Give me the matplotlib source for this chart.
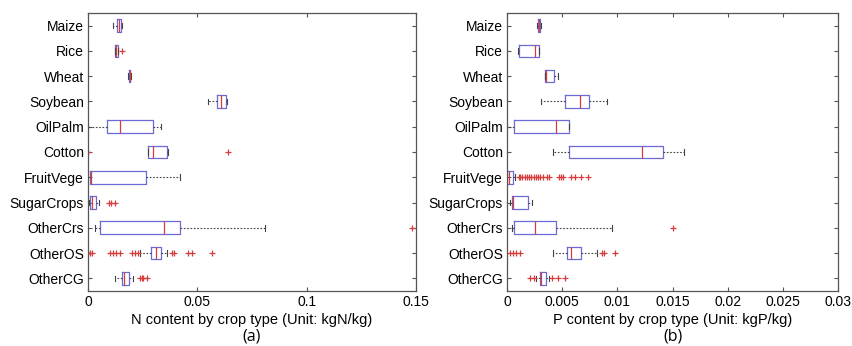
import numpy as np
import matplotlib
matplotlib.use('Agg')
import matplotlib.pyplot as plt

plt.rcParams['font.family'] = ['Liberation Sans', 'DejaVu Sans']

crops = ['Maize', 'Rice', 'Wheat', 'Soybean', 'OilPalm', 'Cotton', 'FruitVege',
         'SugarCrops', 'OtherCrs', 'OtherOS', 'OtherCG']

# N content (kgN/kg): whisker low, q1, median, q3, whisker high, outliers
n_whislo = [0.0115, 0.0122, 0.0185, 0.0547, 0.0, 0.0275, 0.0, 0.0003, 0.003, 0.0237, 0.0122]
n_q1 = [0.0133, 0.0122, 0.0186, 0.0592, 0.0089, 0.0275, 0.0008, 0.0011, 0.0054, 0.029, 0.0156]
n_med = [0.0142, 0.0127, 0.019, 0.0609, 0.0144, 0.0295, 0.0012, 0.0018, 0.0347, 0.0309, 0.0165]
n_q3 = [0.0153, 0.0135, 0.0194, 0.063, 0.0298, 0.0359, 0.0263, 0.0035, 0.042, 0.0333, 0.0188]
n_whishi = [0.0156, 0.0135, 0.0195, 0.0635, 0.0333, 0.0364, 0.042, 0.0049, 0.081, 0.0359, 0.0206]
n_fliers = [[], [0.0157], [], [], [], [0.0, 0.0639], [],
            [0.0095, 0.0107, 0.0122], [0.148],
            [0.0, 0.0008, 0.0018, 0.0099, 0.0115, 0.013, 0.0145, 0.0199, 0.0214,
             0.0229, 0.0382, 0.0394, 0.0459, 0.0474, 0.0566],
            [0.0237, 0.0245, 0.0252, 0.0268]]

# P content (kgP/kg)
p_whislo = [0.0027, 0.001, 0.0034, 0.0031, 0.0, 0.0042, 0.0, 0.0003, 0.00045, 0.0042, 0.0026]
p_q1 = [0.0028, 0.00112, 0.00345, 0.00524, 0.0006, 0.0056, 0.0, 0.00045, 0.0006, 0.00545, 0.003]
p_med = [0.0029, 0.0025, 0.0035, 0.00658, 0.00448, 0.01227, 0.0002, 0.0005, 0.0025, 0.0058, 0.0031]
p_q3 = [0.003, 0.00294, 0.0043, 0.00745, 0.0056, 0.01415, 0.0005, 0.0019, 0.00445, 0.0067, 0.0035]
p_whishi = [0.0031, 0.00294, 0.0046, 0.0091, 0.0056, 0.016, 0.00076, 0.0023, 0.0095, 0.0082, 0.0038]
p_fliers = [[], [], [], [], [], [],
            [0.00106, 0.0012, 0.0014, 0.0016, 0.0018, 0.002, 0.0022, 0.0024, 0.0026,
             0.0028, 0.003, 0.0033, 0.0036, 0.0038, 0.0047, 0.0049, 0.0051, 0.0058,
             0.0062, 0.0067, 0.0073],
            [], [0.015],
            [0.0003, 0.00055, 0.00085, 0.00115, 0.0086, 0.0088, 0.0098],
            [0.0021, 0.0024, 0.0041, 0.0046, 0.0053]]

box_col = '#6b6bd6'
med_col = '#d63c3c'
edge_col = '#555555'


def make_stats(lo, q1, med, q3, hi, fl):
    stats = []
    for i in range(len(crops)):
        stats.append({'whislo': lo[i], 'q1': q1[i], 'med': med[i], 'q3': q3[i],
                      'whishi': hi[i], 'fliers': fl[i], 'label': crops[i]})
    return stats


def draw_panel(ax, stats, xmax, xticks, xticklabels, xlabel, tag):
    ax.bxp(stats, positions=np.arange(1, len(crops) + 1), orientation='horizontal',
           widths=0.5, capwidths=0.22, showfliers=True,
           boxprops=dict(color=box_col, linewidth=0.9),
           medianprops=dict(color=med_col, linewidth=0.9),
           whiskerprops=dict(color='#444444', linewidth=0.8, linestyle=(0, (1.5, 1.5))),
           capprops=dict(color='#444444', linewidth=0.8),
           flierprops=dict(marker='+', markeredgecolor=med_col, markersize=5,
                           markeredgewidth=0.9, linestyle='none'))
    ax.set_ylim(11.5, 0.5)
    ax.set_xlim(0, xmax)
    ax.set_yticks(np.arange(1, len(crops) + 1))
    ax.set_yticklabels(crops, fontsize=10)
    ax.set_xticks(xticks)
    ax.set_xticklabels(xticklabels, fontsize=10)
    ax.set_xlabel(xlabel, fontsize=10.5, labelpad=3)
    ax.tick_params(direction='in', top=True, right=True, length=3, color=edge_col, pad=3)
    for s in ax.spines.values():
        s.set_color(edge_col)
        s.set_linewidth(0.9)
    ax.text(0.5, -0.165, tag, transform=ax.transAxes, ha='center', va='center',
            fontsize=11.5, family=['Open Sans', 'DejaVu Sans'])


fig = plt.figure(figsize=(8.53, 3.46), dpi=100)
ax1 = fig.add_axes([0.1032, 0.159, 0.3845, 0.8035])
ax2 = fig.add_axes([0.5944, 0.159, 0.388, 0.8035])

draw_panel(ax1, make_stats(n_whislo, n_q1, n_med, n_q3, n_whishi, n_fliers), 0.15,
           [0, 0.05, 0.1, 0.15], ['0', '0.05', '0.1', '0.15'],
           'N content by crop type (Unit: kgN/kg)', '(a)')
draw_panel(ax2, make_stats(p_whislo, p_q1, p_med, p_q3, p_whishi, p_fliers), 0.03,
           [0, 0.005, 0.01, 0.015, 0.02, 0.025, 0.03],
           ['0', '0.005', '0.01', '0.015', '0.02', '0.025', '0.03'],
           'P content by crop type (Unit: kgP/kg)', '(b)')

fig.savefig('out.png', dpi=100)
